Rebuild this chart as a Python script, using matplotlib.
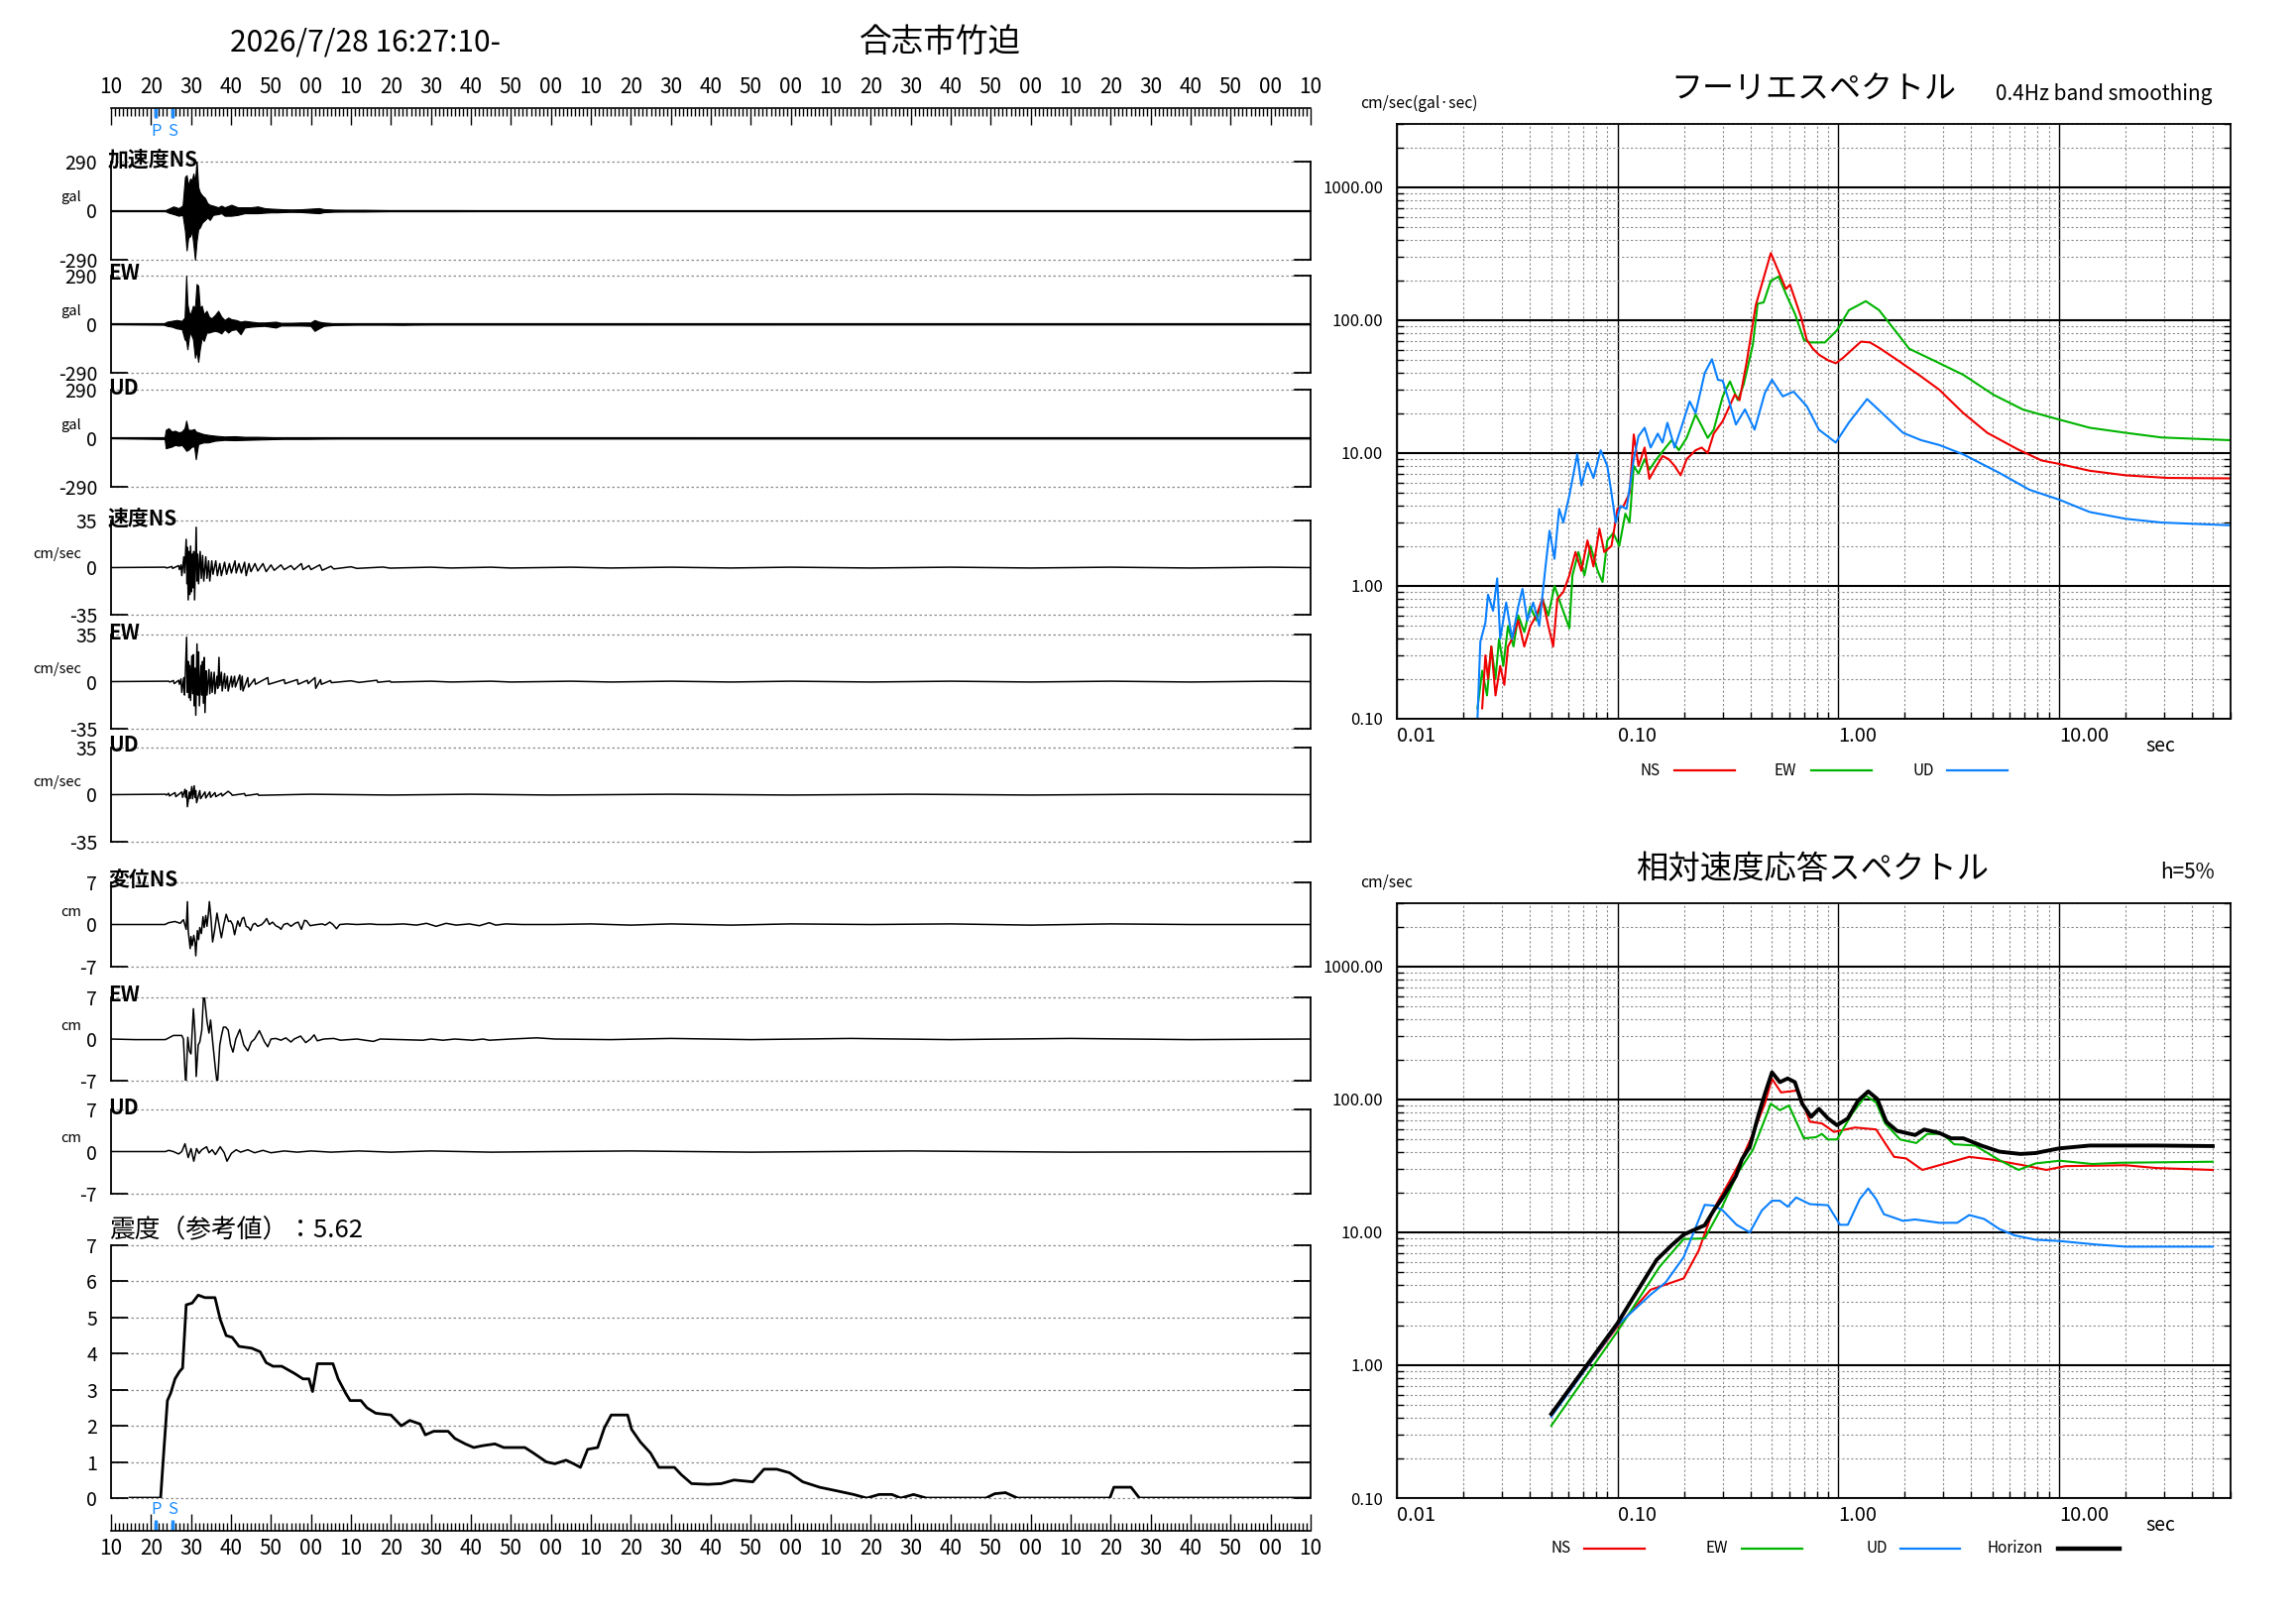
import numpy as np
import matplotlib
matplotlib.use('Agg')
from matplotlib import pyplot as plt
from matplotlib import ticker
from matplotlib.lines import Line2D

plt.rcParams['font.family'] = ['Noto Sans CJK JP', 'DejaVu Sans']

# ---------------- data ----------------
title_time = '2026/7/28 16:27:10-'
station = '合志市竹迫'
time_labels = ['10', '20', '30', '40', '50', '00', '10', '20', '30', '40', '50', '00',
               '10', '20', '30', '40', '50', '00', '10', '20', '30', '40', '50', '00',
               '10', '20', '30', '40', '50', '00', '10']
p_time = 11.2
s_time = 15.3

panel_labels = ['加速度NS', 'EW', 'UD', '速度NS', 'EW', 'UD', '変位NS', 'EW', 'UD']
panel_units = ['gal', 'gal', 'gal', 'cm/sec', 'cm/sec', 'cm/sec', 'cm', 'cm', 'cm']
acc_amp_labels = ['290', '0', '-290']
vel_amp_labels = ['35', '0', '-35']
disp_amp_labels = ['7', '0', '-7']

# acceleration envelopes (gal)
acc_ns_t = [0, 13.6, 14.4, 15.6, 16.9, 17.9, 18.5, 18.9, 19.3, 19.8, 20.2, 20.6, 21.0, 21.4, 21.8, 22.2,
            22.8, 23.5, 24.1, 24.7, 25.5, 26.8, 27.6, 28.4, 30.1, 31.7, 33.4, 35.0, 36.7, 38.4, 40.0, 41.7,
            43.3, 45.0, 47.4, 50.0, 52.0, 53.2, 55.7, 59.0, 63.1, 66.5, 69.8, 86.3, 100, 300]
acc_ns_hi = [0, 3, 12, 25, 15, 30, 200, 210, 150, 190, 180, 220, 170, 300, 140, 110,
             90, 75, 45, 35, 30, 20, 30, 20, 35, 20, 20, 20, 25, 15, 12, 10,
             8, 7, 8, 12, 15, 9, 6, 5, 5, 4, 3, 3, 2, 2]
acc_ns_lo = [0, -3, -12, -20, -30, -25, -120, -235, -160, -150, -120, -200, -290, -180, -110, -100,
             -70, -55, -40, -55, -25, -20, -15, -30, -30, -25, -15, -15, -15, -12, -10, -10,
             -8, -7, -8, -12, -15, -9, -6, -5, -5, -4, -3, -3, -2, -2]

acc_ew_t = [0, 13.1, 14.0, 15.2, 16.4, 17.7, 18.4, 18.8, 19.1, 19.6, 20.0, 20.5, 21.0, 21.4, 21.8, 22.2,
            22.7, 23.2, 23.9, 24.5, 25.1, 26.0, 26.8, 27.6, 28.4, 29.3, 30.1, 31.3, 32.4, 33.4, 35.0, 36.7,
            38.4, 41.2, 42.5, 45.0, 47.4, 49.9, 50.9, 52.0, 53.2, 55.7, 61.5, 68.1, 73.1, 75.5, 80.5, 81.3,
            126, 300]
acc_ew_hi = [0, 3, 15, 20, 25, 20, 40, 290, 120, 60, 70, 110, 100, 240, 230, 100,
             110, 60, 80, 45, 35, 55, 80, 45, 25, 40, 30, 25, 15, 20, 15, 10,
             10, 15, 8, 8, 10, 10, 25, 15, 10, 5, 3, 3, 5, 3, 3, 2,
             2, 1]
acc_ew_lo = [0, -3, -10, -15, -25, -30, -90, -100, -150, -60, -60, -90, -200, -160, -225, -150,
             -80, -100, -50, -50, -45, -40, -45, -55, -30, -50, -35, -30, -60, -20, -15, -12,
             -10, -20, -8, -8, -8, -10, -40, -25, -10, -5, -3, -3, -4, -3, -2, -2,
             -2, -1]

acc_ud_t = [0, 13.4, 13.7, 14.4, 15.2, 16.0, 16.9, 17.7, 18.4, 18.8, 19.3, 20.2, 20.8, 21.2, 21.8, 23.1,
            24.3, 26.0, 28.4, 30.9, 33.4, 36.7, 40.0, 43.3, 49.1, 52.4, 57.4, 300]
acc_ud_hi = [0, 5, 50, 60, 40, 45, 35, 40, 60, 105, 50, 50, 55, 40, 35, 25,
             20, 15, 10, 12, 8, 8, 6, 4, 5, 3, 2, 1.5]
acc_ud_lo = [0, -5, -60, -55, -50, -40, -45, -40, -60, -75, -70, -50, -50, -125, -35, -25,
             -25, -15, -10, -12, -10, -8, -6, -4, -4, -3, -2, -1.5]

# velocity peaks (cm/sec)
vel_ns_t = [0, 13.6, 13.9, 15.2, 15.4, 16.9, 17.1, 17.5, 17.7, 18.2, 18.4, 18.8, 19.0, 19.1, 19.3, 19.5,
            19.7, 19.9, 20.1, 20.3, 20.5, 20.7, 20.9, 21.3, 21.5, 21.7, 21.9, 22.3, 22.6, 22.9, 23.2, 23.7,
            24.0, 24.4, 24.7, 25.2, 25.5, 26.2, 26.6, 27.2, 27.6, 28.4, 28.9, 29.6, 30.1, 31.0, 31.3, 32.0,
            32.6, 33.4, 33.8, 34.5, 35.0, 36.0, 36.7, 38.0, 38.8, 40.0, 40.8, 42.5, 43.3, 45.0, 45.8, 47.6,
            48.0, 49.5, 50.0, 52.2, 52.8, 55.0, 55.7, 60.0, 61.5, 68.0, 69.8, 80, 85, 95, 100, 115,
            125, 140, 155, 170, 190, 210, 230, 250, 270, 290, 300]
vel_ns_v = [0, 0.3, -0.3, 0.8, -0.6, 1.5, -1.5, 2, -6, 8, -4, 21, -12, 15, -24, 12,
            -20, 16, -18, 10, -15, 12, -24, 30, -10, 10, -12, 12, -8, 9, -10, 8,
            -8, 5, -10, 5, -5, 5, -6, 3, -6, 4, -5, 3, -4, 5, -4, 3,
            -4, 4, -6, 3, -3, 3, -2.5, 3, -3, 2, -2, 2, -1.5, 1.5, -1.5, 3,
            -1.5, 1.5, -1.5, 2, -2, 1, -1, 0.6, -0.6, 0.4, -0.4, 0.3, -0.3, 0.3, -0.3, 0.3,
            -0.3, 0.3, -0.3, 0.3, -0.3, 0.3, -0.3, 0.3, -0.3, 0.3, 0]

vel_ew_t = [0, 14.4, 14.7, 15.6, 15.8, 16.9, 17.1, 17.5, 17.7, 18.2, 18.4, 18.9, 19.1, 19.3, 19.5, 19.7,
            19.9, 20.2, 20.4, 20.6, 20.8, 21.0, 21.2, 21.5, 21.7, 21.9, 22.1, 22.5, 22.7, 22.9, 23.1, 23.3,
            23.5, 23.8, 24.0, 24.5, 24.7, 25.1, 25.3, 25.8, 26.0, 26.5, 26.7, 27.0, 27.2, 27.6, 27.8, 28.4,
            28.6, 29.1, 29.3, 30.1, 30.3, 30.9, 31.1, 32.2, 32.4, 32.8, 33.0, 34.2, 34.4, 35.9, 36.1, 39.2,
            39.4, 43.3, 43.5, 46.6, 46.8, 49.1, 49.3, 51.0, 51.2, 52.4, 52.6, 54.9, 55.1, 60.0, 62.0, 66.5,
            66.7, 69.8, 70.0, 80, 85, 95, 100, 115, 125, 140, 155, 170, 190, 210, 230, 250,
            270, 290, 300]
vel_ew_v = [0, 0.3, -0.3, 0.8, -1.5, 1, -2, 2, -8, 3, -10, 33, -8, 15, -12, 12,
            -14, 19, -9, 20, -18, 10, -25, 28, -10, 22, -18, 12, -10, 15, -16, 18,
            -23, 8, -10, 9, -9, 7, -8, 7, -9, 4, -5, 18, -3, 7, -7, 6,
            -5, 4, -7, 4, -4, 4, -4, 5, -6, 4, -7, 3, -4, 2, -2, 3,
            -2, 1.5, -1.5, 1.5, -2, 1, -1.5, 3, -5, 1.5, -2, 0.8, -0.8, 0.6, -0.6, 1,
            -0.5, 0.4, -0.4, 0.3, -0.3, 0.3, -0.3, 0.3, -0.3, 0.3, -0.3, 0.3, -0.3, 0.3, -0.3, 0.3,
            -0.3, 0.3, 0]

vel_ud_t = [0, 13.6, 13.9, 14.4, 14.6, 16.0, 16.2, 17.7, 17.9, 18.5, 18.7, 18.9, 19.1, 19.6, 19.8, 20.2,
            20.4, 20.8, 21.0, 21.2, 21.4, 22.2, 22.4, 23.5, 23.7, 24.7, 24.9, 26.0, 26.2, 27.6, 27.8, 29.3,
            30.1, 30.3, 33.4, 33.6, 36.7, 36.9, 50, 70, 90, 110, 140, 170, 200, 230, 260, 300]
vel_ud_v = [0, 0.3, -0.3, 1, -1, 1.5, -1.5, 2, -2, 4, -2, 3, -9, 2, -3, 6,
            -3, 6.6, -2, 3, -6, 3, -3, 2, -2.5, 2, -2, 1.5, -1.5, 1, -1, 2.5,
            0.5, -0.5, 0.8, -0.8, 0.5, -0.5, 0.3, -0.3, 0.3, -0.3, 0.3, -0.3, 0.3, -0.3, 0.3, 0]

# displacement peaks (cm)
disp_ns_t = [0, 13.5, 14.4, 16.0, 17.3, 18.1, 18.8, 19.1, 19.3, 19.8, 20.0, 20.3, 20.7, 21.0, 21.2, 21.6,
             21.9, 22.2, 22.6, 23.0, 23.3, 23.7, 24.0, 24.3, 24.6, 25.0, 25.4, 25.9, 26.5, 27.0, 27.6, 28.2,
             28.8, 29.4, 29.9, 30.4, 30.9, 31.3, 31.7, 32.2, 32.8, 33.2, 33.8, 34.4, 34.9, 35.5, 36.0, 36.7,
             37.7, 38.4, 38.9, 39.6, 40.4, 41.2, 42.1, 42.5, 43.2, 44.1, 45.0, 46.0, 46.8, 47.6, 48.4, 48.9,
             49.8, 50.6, 51.6, 52.8, 53.6, 54.7, 55.5, 56.4, 57.2, 59.0, 61.5, 64.8, 66.5, 69.8, 73.1, 76.4,
             78.9, 81.3, 83.8, 86.3, 89.6, 92.1, 94.6, 96.2, 98.7, 102.8, 111, 120, 130, 140, 155, 170,
             190, 210, 230, 250, 270, 300]
disp_ns_v = [0, 0, 0.3, 0.5, 0.2, 0.8, -0.8, 3.8, -1.0, -4.0, -2.0, -3.5, -1.8, -3.0, -5.2, -1.0,
             -2.5, -0.5, -1.5, 1.3, -0.5, 1.5, -0.3, 1.5, 3.8, 1.0, -2.9, -1.0, 1.9, 0.0, -2.2, 0.0,
             1.7, 0.5, 0.6, 0.0, -1.7, -0.5, 0.6, -0.3, 1.0, 1.2, -0.3, -0.5, -1.0, 0.0, 0.2, -0.3,
             0.0, 0.5, 1.0, 0.0, 0.4, -0.2, -0.5, -0.8, 0.0, 0.2, -0.3, 0.2, 0.4, -0.8, 0.7, 0.6,
             -0.2, -0.1, 0.0, 0.1, -0.1, 0.4, 0.0, -0.7, 0.0, 0.1, 0.0, 0.1, 0.0, 0.0, 0.1, -0.1,
             0.2, -0.3, 0.2, -0.1, 0.1, -0.2, 0.3, -0.1, 0.1, 0.0, 0.0, 0.1, -0.1, 0.1, -0.1, 0.1,
             0.0, 0.1, -0.1, 0.1, 0.0, 0.0]

disp_ew_t = [0, 6.1, 13.6, 15.6, 17.7, 18.1, 18.7, 19.2, 19.6, 20.0, 20.6, 21.0, 21.3, 21.8, 22.2, 22.7,
             23.2, 24.0, 24.5, 24.9, 25.5, 26.1, 26.6, 27.2, 27.6, 28.1, 28.7, 29.3, 29.9, 30.5, 31.2, 32.2,
             33.2, 34.2, 35.1, 35.9, 37.1, 38.4, 39.2, 40.0, 41.2, 42.5, 43.7, 45.0, 45.8, 47.4, 48.7, 49.9,
             50.8, 51.6, 53.2, 55.7, 57.4, 61.5, 65.6, 67.3, 78.0, 80.0, 83.0, 86.0, 90.4, 93.0, 94.6, 100,
             106.5, 111, 125, 140, 160, 185, 210, 240, 270, 300]
disp_ew_v = [0, -0.1, -0.1, 0.6, 0.6, 0.0, -8.1, 0.3, -2.0, -2.5, 5.1, 1.0, -6.3, -1.0, -0.5, 1.5,
             8.2, 3.0, 1.0, 3.2, -1.0, -5.0, -7.8, -1.0, 0.5, 2.0, 2.0, 1.5, -1.0, -2.2, 0.0, 1.6,
             -1.0, -2.0, -0.5, 0.0, 1.4, -0.5, -1.3, 0.0, 0.1, -0.2, 0.2, -0.5, 0.0, 0.5, -0.6, 0.0,
             0.7, -0.3, 0.0, 0.1, -0.2, 0.0, -0.4, 0.0, -0.2, 0.0, -0.2, 0.0, -0.2, 0.0, -0.2, 0.0,
             0.2, 0.0, -0.1, 0.1, -0.1, 0.1, -0.1, 0.1, -0.1, 0.0]

disp_ud_t = [0, 13.6, 14.4, 15.6, 16.9, 17.7, 18.5, 19.3, 20.0, 20.7, 21.4, 22.0, 22.7, 23.9, 24.5, 25.3,
             26.1, 27.3, 28.3, 29.0, 30.1, 31.3, 32.4, 34.2, 35.9, 38.0, 40.0, 43.3, 46.6, 50, 55, 62,
             70, 80, 95, 111, 130, 160, 200, 240, 300]
disp_ud_v = [0, 0.0, 0.2, 0.0, -0.4, 0.0, 1.3, -1.0, 0.5, -1.6, 0.5, -0.3, 0.3, 0.8, -0.2, 0.3,
             -0.5, 0.8, -0.2, -1.6, -0.3, 0.3, -0.1, 0.3, -0.2, 0.2, -0.2, 0.1, -0.1, 0.1, -0.1, 0.1,
             -0.1, 0.1, -0.1, 0, 0.1, -0.1, 0.1, -0.1, 0]

# seismic intensity (reference value)
int_title = '震度（参考値）：5.62'
int_labels = ['0', '1', '2', '3', '4', '5', '6', '7']
int_t = [4.7, 12.4, 13.2, 14.1, 14.9, 16.0, 17.1, 17.9, 18.8, 20.3,
         21.8, 23.5, 26.0, 27.3, 28.8, 30.3, 32.0, 35.2, 37.3, 38.8,
         40.5, 42.7, 45.9, 48.0, 49.5, 50.4, 51.6, 55.5, 56.8, 58.7,
         59.8, 62.5, 64.0, 66.2, 70.0, 72.6, 74.7, 77.3, 78.6, 80.7,
         84.3, 86.0, 88.6, 90.7, 92.9, 96.0, 98.2, 103.5, 105.6, 108.9,
         111.0, 113.8, 115.7, 117.4, 119.2, 121.7, 123.4, 125.1, 129.2, 130.2,
         132.4, 134.9, 137.0, 140.9, 142.6, 145.2, 149.4, 152.6, 155.8, 160.5,
         163.3, 166.5, 169.7, 173.0, 177.2, 181.5, 185.7, 189.0, 192.1, 195.3,
         197.5, 200.7, 203.9, 218.8, 221.0, 223.7, 226.7, 249.8, 250.8, 255.1,
         257.2, 300]
int_v = [0, 0, 1.3, 2.7, 2.9, 3.3, 3.5, 3.6, 5.35, 5.4,
         5.62, 5.55, 5.55, 4.95, 4.5, 4.45, 4.2, 4.15, 4.05, 3.75,
         3.65, 3.65, 3.45, 3.3, 3.3, 2.95, 3.72, 3.72, 3.3, 2.9,
         2.7, 2.7, 2.5, 2.35, 2.3, 2.0, 2.15, 2.05, 1.75, 1.85,
         1.85, 1.65, 1.5, 1.4, 1.45, 1.5, 1.4, 1.4, 1.25, 1.0,
         0.95, 1.05, 0.95, 0.85, 1.35, 1.4, 1.95, 2.3, 2.3, 1.9,
         1.55, 1.25, 0.85, 0.85, 0.65, 0.4, 0.38, 0.4, 0.5, 0.45,
         0.8, 0.8, 0.7, 0.45, 0.3, 0.2, 0.1, 0.0, 0.1, 0.1,
         0.0, 0.1, 0.0, 0.0, 0.12, 0.15, 0.0, 0.0, 0.3, 0.3,
         0.0, 0.0]

# Fourier spectra (period sec, cm/sec)
f_ns_T = [0.02437, 0.0252, 0.0259, 0.0268, 0.0280, 0.0294, 0.0307, 0.0319, 0.0333, 0.0355,
          0.0378, 0.0403, 0.0429, 0.0457, 0.0486, 0.0511, 0.0534, 0.0568, 0.0605, 0.0645,
          0.0686, 0.0731, 0.0778, 0.0828, 0.0871, 0.0939, 0.1, 0.1065, 0.1134, 0.1185,
          0.1245, 0.1327, 0.1394, 0.1503, 0.160, 0.1705, 0.1815, 0.1932, 0.2058, 0.2259,
          0.2407, 0.2563, 0.2729, 0.2998, 0.3399, 0.3573, 0.3853, 0.4234, 0.4952, 0.5794,
          0.6053, 0.6779, 0.721, 0.7685, 0.818, 0.899, 0.975, 1.051, 1.155, 1.269,
          1.394, 1.532, 1.849, 2.376, 2.87, 3.69, 4.74, 6.49, 8.34, 10.0,
          13.8, 20.1, 31.1, 59.8]
f_ns_A = [0.12, 0.3, 0.2, 0.35, 0.15, 0.25, 0.18, 0.35, 0.4, 0.55,
          0.35, 0.5, 0.6, 0.8, 0.5, 0.35, 0.8, 0.9, 1.2, 1.8,
          1.3, 2.2, 1.4, 2.7, 1.8, 2.0, 3.8, 4.0, 5.0, 13.8,
          8.0, 11.0, 6.4, 8.0, 9.5, 9.0, 8.0, 6.8, 9.0, 10.5,
          11.0, 10.0, 14.0, 17.4, 27.5, 25.0, 49.0, 130, 320, 172,
          185, 106, 71, 61, 55, 50, 47.4, 52, 60, 69,
          68, 62, 50.3, 37.7, 30.0, 20.0, 14.2, 10.7, 8.8, 8.3,
          7.36, 6.8, 6.5, 6.45]

f_ew_T = [0.0232, 0.02437, 0.02562, 0.02679, 0.02799, 0.02906, 0.03036, 0.0319, 0.03378, 0.0355,
          0.03782, 0.04025, 0.04287, 0.04565, 0.04861, 0.0518, 0.0558, 0.0605, 0.0625, 0.0665,
          0.0708, 0.0754, 0.0813, 0.0855, 0.0899, 0.0957, 0.1019, 0.1085, 0.1134, 0.1185,
          0.1245, 0.1327, 0.1394, 0.1503, 0.1652, 0.1759, 0.1897, 0.2058, 0.2259, 0.2407,
          0.2563, 0.2729, 0.2998, 0.3233, 0.3508, 0.3734, 0.4103, 0.4315, 0.4592, 0.4952,
          0.5374, 0.5794, 0.6366, 0.6994, 0.7447, 0.871, 0.9876, 1.119, 1.334, 1.532,
          1.849, 2.097, 2.695, 3.69, 5.05, 6.9, 10.0, 13.8, 20.1, 29.2,
          59.8]
f_ew_A = [0.12, 0.23, 0.15, 0.35, 0.2, 0.4, 0.25, 0.5, 0.35, 0.6,
          0.45, 0.7, 0.55, 0.8, 0.6, 1.0, 0.7, 0.48, 1.2, 1.8,
          1.2, 2.0, 1.3, 1.07, 2.2, 2.5, 2.0, 3.5, 3.0, 8.0,
          7.0, 9.0, 7.5, 9.0, 11.0, 12.5, 10.5, 13.0, 19.5, 16.0,
          13.0, 15.0, 26.7, 34.6, 25.0, 33.0, 65.0, 133, 136, 198,
          213, 158, 112, 71, 68, 68, 84, 119, 139, 119,
          80, 61, 50, 38.8, 27.5, 21.2, 17.9, 15.5, 14.2, 13.1,
          12.5]

f_ud_T = [0.0232, 0.0239, 0.0252, 0.0259, 0.0273, 0.0285, 0.0294, 0.0313, 0.0333, 0.0355,
          0.0371, 0.0390, 0.0415, 0.0442, 0.0471, 0.0492, 0.0518, 0.0544, 0.0568, 0.0605,
          0.0657, 0.0686, 0.0731, 0.0778, 0.0839, 0.0899, 0.0939, 0.0981, 0.1032, 0.1099,
          0.1185, 0.1245, 0.1327, 0.1413, 0.1522, 0.160, 0.1683, 0.1815, 0.1932, 0.2123,
          0.2259, 0.2484, 0.2679, 0.2851, 0.2998, 0.3192, 0.3441, 0.3781, 0.418, 0.4652,
          0.5012, 0.561, 0.628, 0.721, 0.818, 0.975, 1.119, 1.352, 1.581, 1.968,
          2.376, 2.87, 3.69, 5.37, 7.35, 10.0, 13.8, 20.1, 29.2, 59.8]
f_ud_A = [0.1, 0.38, 0.53, 0.86, 0.65, 1.14, 0.4, 0.75, 0.4, 0.7,
          0.95, 0.55, 0.75, 0.5, 1.36, 2.6, 1.6, 3.8, 3.0, 4.8,
          9.8, 5.7, 8.5, 6.5, 10.5, 8.0, 5.0, 3.0, 4.0, 3.8,
          9.0, 13.4, 15.5, 11.0, 14.0, 12.0, 16.9, 11.0, 15.0, 24.5,
          20.0, 40.0, 50.8, 35.6, 35.0, 25.0, 16.4, 21.3, 15.0, 28.3,
          35.6, 26.7, 29.0, 22.5, 15.0, 12.0, 17.0, 25.5, 20.0, 14.2,
          12.5, 11.5, 9.77, 7.1, 5.3, 4.47, 3.6, 3.2, 3.0, 2.86]

# relative velocity response spectra, h=5% (period sec, cm/sec)
r_ns_T = [0.0501, 0.1, 0.1413, 0.1994, 0.2333, 0.2729, 0.3192, 0.3665, 0.4103, 0.4652,
          0.5012, 0.551, 0.6568, 0.7447, 0.8439, 0.957, 1.192, 1.485, 1.792, 2.032,
          2.407, 2.87, 3.926, 4.89, 6.9, 8.77, 10.7, 20.1, 27.5, 49.8]
r_ns_A = [0.42, 1.95, 3.7, 4.5, 7.3, 15, 23.7, 36, 55, 93,
          143, 113, 117, 68, 66, 57, 61.5, 59.5, 37, 36,
          29.5, 32, 37, 35.4, 32, 29.5, 31.5, 32, 30.5, 29.5]

r_ew_T = [0.0501, 0.1, 0.1551, 0.1994, 0.2484, 0.2998, 0.3508, 0.4103, 0.4508, 0.4952,
          0.5441, 0.598, 0.6994, 0.7927, 0.8439, 0.899, 0.9876, 1.155, 1.334, 1.485,
          1.632, 1.909, 2.26, 2.531, 2.961, 3.357, 4.18, 5.37, 6.57, 7.83,
          10.1, 14.2, 18.84, 49.8]
r_ew_A = [0.35, 1.8, 5.5, 8.9, 9.0, 15.9, 28, 41.6, 62, 93,
          83, 90, 51, 52, 55, 50, 50, 78, 107, 95,
          66, 50, 47, 55, 55, 46, 45, 35, 29.5, 33,
          34.6, 32.7, 33.4, 34]

r_ud_T = [0.0501, 0.1, 0.1413, 0.1652, 0.1994, 0.2261, 0.2484, 0.2729, 0.2998, 0.3464,
          0.3977, 0.4508, 0.5012, 0.5441, 0.5904, 0.6447, 0.7447, 0.899, 1.019, 1.106,
          1.253, 1.368, 1.485, 1.611, 1.968, 2.233, 2.87, 3.464, 3.926, 4.59,
          5.37, 6.29, 7.83, 10.1, 14.66, 20.1, 49.8]
r_ud_A = [0.41, 2.0, 3.4, 4.2, 6.5, 10.9, 16.1, 15.9, 14.6, 11.4,
          10.0, 14.6, 17.3, 17.3, 15.6, 18.3, 16.3, 16, 11.4, 11.4,
          17.8, 21.4, 17.8, 13.7, 12.2, 12.5, 11.8, 11.8, 13.5, 12.6,
          10.6, 9.5, 8.8, 8.6, 8.1, 7.8, 7.8]

r_h_T = [0.0501, 0.1, 0.1175, 0.1503, 0.1759, 0.1994, 0.2184, 0.2484, 0.2729, 0.2998,
         0.3441, 0.3665, 0.3977, 0.4368, 0.4652, 0.5012, 0.5441, 0.5904, 0.6366, 0.6863,
         0.754, 0.818, 0.899, 0.9876, 1.106, 1.23, 1.368, 1.503, 1.652, 1.849,
         2.233, 2.453, 2.87, 3.253, 3.69, 4.45, 5.37, 6.69, 7.83, 10.0,
         13.8, 18.84, 27.5, 49.8]
r_h_A = [0.43, 2.07, 3.2, 6.2, 8.0, 9.6, 10.3, 11.3, 14.6, 18.3,
         26.6, 35.5, 44, 78, 110, 160, 135, 144, 135, 93,
         74, 85, 72, 64, 72, 98, 115, 101, 68, 58,
         54, 59.4, 56, 51, 51, 45, 40.5, 38.9, 39.5, 42.8,
         45, 45, 45, 44.6]

spec_x_ticks = [0.01, 0.1, 1, 10]
spec_x_labels = ['0.01', '0.10', '1.00', '10.00']
spec_y_ticks = [0.1, 1, 10, 100, 1000]
spec_y_labels = ['0.10', '1.00', '10.00', '100.00', '1000.00']

# ---------------- drawing ----------------
W, H = 2316, 1637
fig = plt.figure(figsize=(W / 100, H / 100), dpi=100)
fig.patch.set_facecolor('white')

RED = '#f00000'
GREEN = '#00b400'
BLUE = '#0a80ff'
PS_BLUE = '#1e8cff'
GRAY = '#8c8c8c'
DOT = (0, (2, 2))
X0, X1 = 112, 1322


def fx(x):
    return x / W


def fy(y):
    return 1 - y / H


def put(x, y, s, size, **kw):
    kw.setdefault('va', 'center')
    fig.text(fx(x), fy(y), s, fontsize=size, **kw)


def wave_axes(top, bot, amp, amp_labels, label, unit):
    ax = fig.add_axes([fx(X0), fy(bot), fx(X1) - fx(X0), (bot - top) / H])
    ax.set_xlim(0, 300)
    ax.set_ylim(-amp, amp)
    ax.patch.set_alpha(0)
    for s in ['top', 'bottom']:
        ax.spines[s].set_visible(False)
    for s in ['left', 'right']:
        ax.spines[s].set_linewidth(1.3)
    ax.set_xticks([])
    ax.set_yticks([amp, 0, -amp])
    ax.set_yticklabels(amp_labels)
    ax.tick_params(axis='y', length=0, pad=10, labelsize=14)
    for lev in (amp, -amp):
        ax.axhline(lev, color=GRAY, lw=0.9, ls=DOT, zorder=0, clip_on=False)
    # short solid corner marks of the frame
    ax.plot([0, 4], [-amp, -amp], color='k', lw=1.3, clip_on=False)
    ax.plot([296, 300], [amp, amp], color='k', lw=1.3, clip_on=False)
    ax.plot([296, 300], [-amp, -amp], color='k', lw=1.3, clip_on=False)
    put(109, top - 2, label, 15, fontweight='bold')
    put(82, (top + bot) / 2 - 13, unit, 10.5, ha='right')
    return ax


boxes = [(163, 262), (278, 376), (393, 491),
         (525, 620), (640, 735), (754, 849),
         (890, 975), (1006, 1090), (1119, 1204)]

acc_sets = [(acc_ns_t, acc_ns_hi, acc_ns_lo), (acc_ew_t, acc_ew_hi, acc_ew_lo),
            (acc_ud_t, acc_ud_hi, acc_ud_lo)]
for i, (t, hi, lo) in enumerate(acc_sets):
    top, bot = boxes[i]
    ax = wave_axes(top, bot, 290, acc_amp_labels, panel_labels[i], panel_units[i])
    ax.fill_between(t, lo, hi, color='k', lw=0.8)
    ax.axhline(0, color='k', lw=1.6)

vel_sets = [(vel_ns_t, vel_ns_v), (vel_ew_t, vel_ew_v), (vel_ud_t, vel_ud_v)]
for i, (t, v) in enumerate(vel_sets):
    top, bot = boxes[3 + i]
    ax = wave_axes(top, bot, 35, vel_amp_labels, panel_labels[3 + i], panel_units[3 + i])
    ax.plot(t, v, color='k', lw=1.1)

disp_sets = [(disp_ns_t, disp_ns_v), (disp_ew_t, disp_ew_v), (disp_ud_t, disp_ud_v)]
for i, (t, v) in enumerate(disp_sets):
    top, bot = boxes[6 + i]
    ax = wave_axes(top, bot, 7, disp_amp_labels, panel_labels[6 + i], panel_units[6 + i])
    ax.plot(t, v, color='k', lw=1.1)

# intensity panel
ax = fig.add_axes([fx(X0), fy(1511), fx(X1) - fx(X0), 255 / H])
ax.set_xlim(0, 300)
ax.set_ylim(0, 7)
ax.patch.set_alpha(0)
for s in ['top', 'bottom']:
    ax.spines[s].set_visible(False)
for s in ['left', 'right']:
    ax.spines[s].set_linewidth(1.3)
ax.set_xticks([])
ax.set_yticks(range(8))
ax.set_yticklabels(int_labels)
ax.tick_params(axis='y', left=True, right=True, direction='in', length=12, width=1.3,
               pad=10, labelsize=14)
for lev in range(8):
    ax.axhline(lev, color=GRAY, lw=0.9, ls=DOT, zorder=0, clip_on=False)
ax.plot(int_t, int_v, color='k', lw=2.0)
put(110, 1241, int_title, 18.5)


# time scales
def time_axis(top_px, bot_px, on_top):
    tax = fig.add_axes([fx(X0), fy(bot_px), fx(X1) - fx(X0), (bot_px - top_px) / H])
    tax.set_xlim(0, 300)
    tax.set_ylim(0, 1)
    tax.patch.set_alpha(0)
    tax.set_yticks([])
    for s in tax.spines.values():
        s.set_visible(False)
    side = 'top' if on_top else 'bottom'
    tax.spines[side].set_visible(True)
    tax.spines[side].set_linewidth(1.2)
    tax.set_xticks(np.arange(0, 301, 10))
    tax.set_xticklabels(time_labels)
    tax.set_xticks(np.arange(0, 301, 1), minor=True)
    tax.tick_params(axis='x', which='both', direction='in', top=on_top, bottom=not on_top,
                    labeltop=on_top, labelbottom=not on_top, width=1)
    tax.tick_params(axis='x', which='major', length=12, labelsize=15, pad=7 if on_top else 5)
    tax.tick_params(axis='x', which='minor', length=6)
    return tax


tax = time_axis(109, 127, True)
tax.vlines([p_time, s_time], 0.44, 1.0, color=PS_BLUE, lw=2.5)
tax.text(p_time, -0.3, 'P', color=PS_BLUE, fontsize=12, ha='center', va='center')
tax.text(s_time, -0.3, 'S', color=PS_BLUE, fontsize=12, ha='center', va='center')

bax = time_axis(1526, 1544, False)
bax.vlines([p_time, s_time], 0.0, 0.61, color=PS_BLUE, lw=2.5)
bax.text(p_time, 1.22, 'P', color=PS_BLUE, fontsize=12, ha='center', va='center')
bax.text(s_time, 1.22, 'S', color=PS_BLUE, fontsize=12, ha='center', va='center')

put(368, 43, title_time, 21.5, ha='center')
put(948, 43, station, 23.5, ha='center')


# spectra
def spec_axes(top_px):
    sax = fig.add_axes([fx(1409), fy(top_px + 600), fx(2250) - fx(1409), 600 / H])
    sax.set_xscale('log')
    sax.set_yscale('log')
    sax.set_xlim(0.01, 60)
    sax.set_ylim(0.1, 3000)
    sax.set_xticks(spec_x_ticks)
    sax.set_xticklabels(spec_x_labels, ha='left')
    sax.set_yticks(spec_y_ticks)
    sax.set_yticklabels(spec_y_labels)
    sax.xaxis.set_minor_locator(ticker.LogLocator(base=10, subs=np.arange(2, 10), numticks=50))
    sax.yaxis.set_minor_locator(ticker.LogLocator(base=10, subs=np.arange(2, 10), numticks=50))
    sax.xaxis.set_minor_formatter(ticker.NullFormatter())
    sax.yaxis.set_minor_formatter(ticker.NullFormatter())
    sax.xaxis.grid(True, which='major', color='k', lw=1.0)
    sax.yaxis.grid(True, which='major', color='k', lw=1.5)
    sax.grid(True, which='minor', color=GRAY, lw=0.8, ls=DOT)
    sax.set_axisbelow(True)
    sax.tick_params(which='major', length=0)
    sax.tick_params(axis='x', which='major', pad=5, labelsize=14.5)
    sax.tick_params(axis='y', which='major', pad=10, labelsize=12)
    sax.tick_params(which='minor', direction='in', length=5, width=1)
    sax.tick_params(axis='y', which='minor', left=True, right=True)
    sax.tick_params(axis='x', which='minor', bottom=True, top=False)
    for s in sax.spines.values():
        s.set_linewidth(1.3)
    return sax


def legend_item(x_text, x0, x1, y, name, color, lw):
    put(x_text, y, name, 11, ha='center')
    fig.add_artist(Line2D([fx(x0), fx(x1)], [fy(y), fy(y)], color=color, lw=lw))


fax = spec_axes(125)
fax.plot(f_ew_T, f_ew_A, color=GREEN, lw=1.5)
fax.plot(f_ns_T, f_ns_A, color=RED, lw=1.5)
fax.plot(f_ud_T, f_ud_A, color=BLUE, lw=1.5)
put(1829, 91, 'フーリエスペクトル', 23, ha='center')
put(2013, 95, '0.4Hz band smoothing', 15, ha='left')
put(1372, 104, 'cm/sec(gal·sec)', 11.3, ha='left')
put(2164, 753, 'sec', 14, ha='left')
legend_item(1665, 1689, 1750, 777, 'NS', RED, 1.6)
legend_item(1801, 1827, 1888, 777, 'EW', GREEN, 1.6)
legend_item(1940, 1964, 2025, 777, 'UD', BLUE, 1.6)

rax = spec_axes(911)
rax.plot(r_ns_T, r_ns_A, color=RED, lw=1.5)
rax.plot(r_ew_T, r_ew_A, color=GREEN, lw=1.5)
rax.plot(r_ud_T, r_ud_A, color=BLUE, lw=1.5)
rax.plot(r_h_T, r_h_A, color='k', lw=2.8)
put(1828, 877, '相対速度応答スペクトル', 23.3, ha='center')
put(2179, 880, 'h=5%', 15, ha='left')
put(1372, 890, 'cm/sec', 11.3, ha='left')
put(2164, 1538, 'sec', 14, ha='left')
legend_item(1575, 1598, 1659, 1562, 'NS', RED, 1.6)
legend_item(1732, 1757, 1818, 1562, 'EW', GREEN, 1.6)
legend_item(1893, 1917, 1977, 1562, 'UD', BLUE, 1.6)
legend_item(2033, 2076, 2138, 1562, 'Horizon', 'k', 3.2)

fig.savefig('out.png', dpi=100)
